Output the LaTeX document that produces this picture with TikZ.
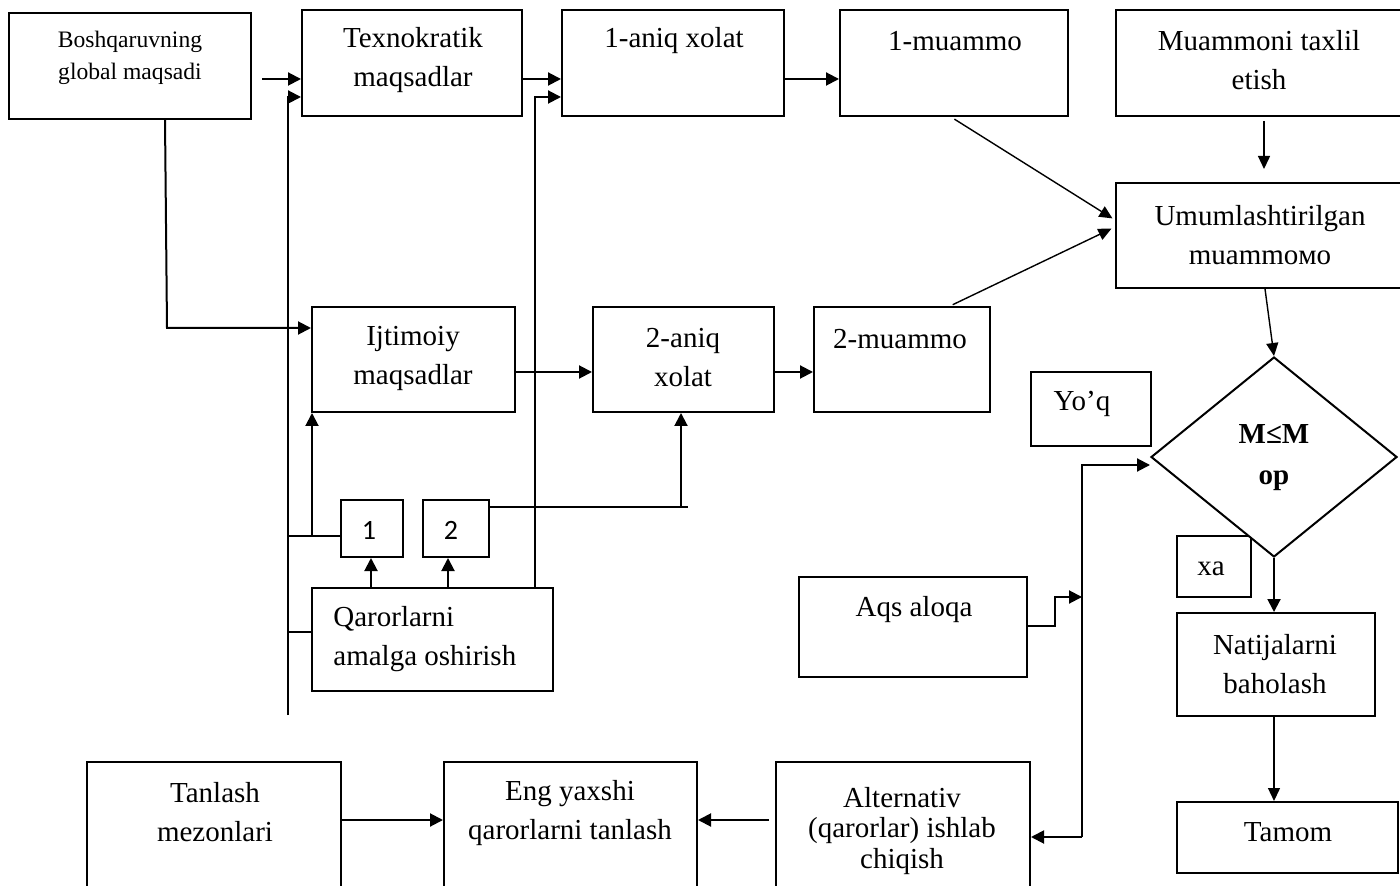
\documentclass[tikz,border=0pt]{standalone}
\usepackage{fontspec}
\setmainfont{Liberation Serif}
\newfontfamily\calib{Carlito}
\usetikzlibrary{arrows.meta,shapes.geometric,fit}

\tikzset{
  box/.style={draw, line width=1pt, inner sep=0pt, rectangle},
  big/.style={align=center, font=\fontsize{14.5}{19.5}\selectfont, inner sep=0pt, yshift=-1pt},
  small/.style={align=center, font=\fontsize{11.8}{16}\selectfont, inner sep=0pt, yshift=-1pt},
  num/.style={font=\calib\fontsize{14}{16}\selectfont, inner sep=0pt},
  link/.style={line width=1pt},
  arr/.style={link, -{Triangle[length=6.5pt,width=6.5pt]}},
  thinarr/.style={line width=0.7pt, -{Triangle[length=6.5pt,width=6pt]}},
}
\newcommand\pbox[5]{\node[box, fit={(#2,#3) (#4,#5)}] (#1) {};}

\begin{document}
\begin{tikzpicture}[x=0.5pt,y=-0.5pt]
\useasboundingbox (0,0) rectangle (1400,886);

% boxes
\pbox{glob}{9}{13}{251}{119}
\pbox{tex}{302}{10}{522}{116}
\pbox{an1}{562}{10}{784}{116}
\pbox{mu1}{840}{10}{1068}{116}
\pbox{tax}{1116}{10}{1410}{116}
\pbox{umu}{1116}{183}{1410}{288}
\pbox{ijt}{312}{307}{515}{412}
\pbox{an2}{593}{307}{774}{412}
\pbox{mu2}{814}{307}{990}{412}
\pbox{yoq}{1031}{372}{1151}{446}
\pbox{xa}{1177}{536}{1251}{597}
\pbox{nat}{1177}{613}{1375}{716}
\pbox{tam}{1177}{802}{1398}{873}
\pbox{aqs}{799}{577}{1027}{677}
\pbox{b1}{341}{500}{403}{557}
\pbox{b2}{423}{500}{489}{557}
\pbox{qar}{312}{588}{553}{691}
\pbox{tan}{87}{762}{341}{900}
\pbox{eng}{444}{762}{697}{900}
\pbox{alt}{776}{762}{1030}{900}
\node[draw, line width=1pt, diamond, minimum width=123pt, minimum height=100pt,
      inner sep=0pt, fill=white] (dia) at (1274,457) {};

% texts
\node[small] (globT) at (130,56) {Boshqaruvning\\global maqsadi};
\node[big] (texT) at (413,58) {Texnokratik\\maqsadlar};
\node[big] (an1T) at (674,39) {1-aniq xolat};
\node[big] (mu1T) at (955,39) {1-muammo};
\node[big] (taxT) at (1259,58) {Muammoni taxlil\\etish};
\node[big] (umuT) at (1260,233) {Umumlashtirilgan\\muammoмо};
\node[big] (ijtT) at (413,356) {Ijtimoiy\\maqsadlar};
\node[big] (an2T) at (683,356) {2-aniq\\xolat};
\node[big] (mu2T) at (900,337) {2-muammo};
\node[big] (yoqT) at (1082,402) {Yo’q};
\node[big, font=\bfseries\fontsize{14.5}{20.5}\selectfont] (diaT) at (1274,456) {M≤M\\op};
\node[big] (xaT) at (1211,567) {xa};
\node[big] (natT) at (1275,662) {Natijalarni\\baholash};
\node[big] (tamT) at (1288,830) {Tamom};
\node[big] (aqsT) at (914,608) {Aqs aloqa};
\node[num] (b1T) at (369,530) {1};
\node[num] (b2T) at (451,530) {2};
\node[big, align=left, anchor=west] (qarT) at (333,637) {Qarorlarni\\amalga oshirish};
\node[big] (tanT) at (215,810) {Tanlash\\mezonlari};
\node[big] (engT) at (570,811) {Eng yaxshi\\qarorlarni tanlash};
\node[big, font=\fontsize{14.5}{15.2}\selectfont] (altT) at (902,829) {Alternativ\\(qarorlar) ishlab\\chiqish};

% reference points for rows and columns of connectors
\coordinate (r1) at (0,79);
\coordinate (gs) at (262,79);
\coordinate (sp1top) at (288,97);
\coordinate (sp1bot) at (288,715);
\coordinate (gd0) at (165,0);
\coordinate (gd1) at (167,328);
\coordinate (t2) at (535,97);
\coordinate (m1) at (951,0);
\coordinate (m1e) at (0,220);
\coordinate (m2) at (950,0);
\coordinate (m2e) at (0,227);
\coordinate (c3) at (1264,0);
\coordinate (c4) at (1265,0);
\coordinate (r2) at (0,372);
\coordinate (b2r) at (688,507);
\coordinate (b2u) at (681,507);
\coordinate (j1) at (288,536);
\coordinate (j2) at (312,536);
\coordinate (j3) at (288,632);
\coordinate (c1) at (371,0);
\coordinate (c2) at (448,0);
\coordinate (s2top) at (1082,465);
\coordinate (s2bot) at (1082,837);
\coordinate (q1) at (1055,626);
\coordinate (q2) at (1055,597);
\coordinate (r3) at (0,820);

% upper left connectors
\draw[arr] (gs) -- (gs -| tex.west);
\draw[arr] (sp1bot) -- (sp1top) -- (sp1top -| tex.west);
\draw[arr] (glob.south -| gd0) -- (gd1) -- (gd1 -| ijt.west);
\draw[arr] (tex.east |- r1) -- (an1.west |- r1);
\draw[arr] (qar.north -| t2) -- (t2) -- (t2 -| an1.west);
\draw[arr] (an1.east |- r1) -- (mu1.west |- r1);

% towards the generalised problem
\draw[thinarr, shorten <=2pt, shorten >=1.5pt] (mu1.south -| m1) -- (umu.west |- m1e);
\draw[thinarr, shorten <=1.5pt, shorten >=2pt] (mu2.north -| m2) -- (umu.west |- m2e);
\draw[thinarr, shorten <=2pt, shorten >=6.5pt] (tax.south -| c3) -- (umu.north -| c3);
\draw[thinarr] (umu.south -| c4) -- (dia.north);

% middle row
\draw[arr] (ijt.east |- r2) -- (an2.west |- r2);
\draw[arr] (an2.east |- r2) -- (mu2.west |- r2);
\draw[link] (b2.east |- b2r) -- (b2r);
\draw[arr] (b2u) -- (b2u |- an2.south);
\draw[link] (j1) -- (j1 -| b1.west);
\draw[arr] (j2) -- (j2 |- ijt.south);
\draw[arr] (qar.north -| c1) -- (b1.south -| c1);
\draw[arr] (qar.north -| c2) -- (b2.south -| c2);
\draw[link] (j3) -- (j3 -| qar.west);

% right column
\draw[arr] (s2bot) -- (s2top) -- (s2top -| dia.west);
\draw[arr] (s2bot) -- (s2bot -| alt.east);
\draw[arr] (aqs.east |- q1) -- (q1) -- (q2) -- (q2 -| s2top);
\draw[arr] (dia.south) -- (nat.north -| dia.south);
\draw[thinarr] (nat.south -| dia.south) -- (tam.north -| dia.south);

% bottom row
\draw[arr] (tan.east |- r3) -- (eng.west |- r3);
\draw[arr, shorten <=3pt] (alt.west |- r3) -- (eng.east |- r3);
\end{tikzpicture}
\end{document}
